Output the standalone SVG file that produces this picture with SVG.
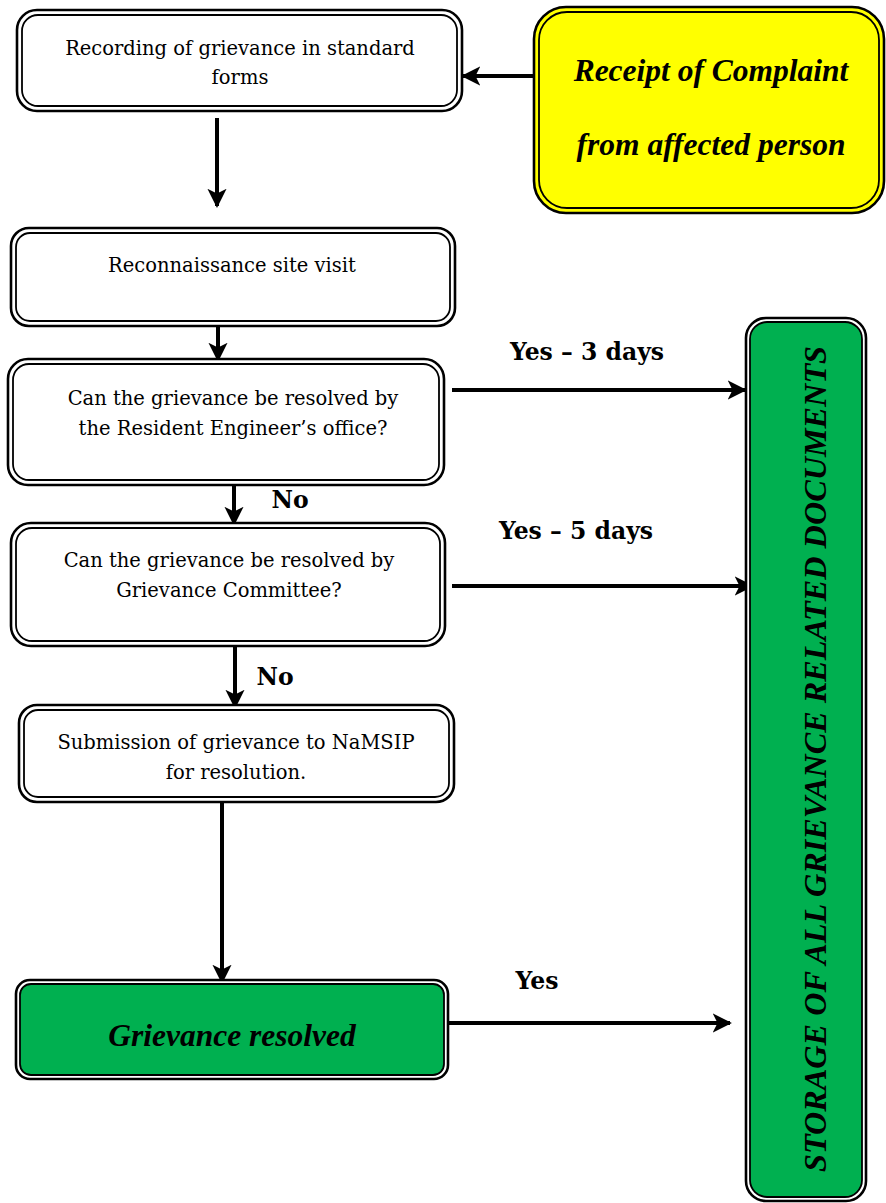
<svg xmlns="http://www.w3.org/2000/svg" width="886" height="1203" viewBox="0 0 886 1203">
<style>
.o{fill:#fff;stroke:#000;stroke-width:2.6}
.i{fill:none;stroke:#000;stroke-width:1.8}
.t{font-family:"DejaVu Serif","Liberation Serif",serif;font-size:19.5px;fill:#000;text-anchor:middle}
.bi{font-family:"Liberation Serif",serif;font-weight:bold;font-style:italic;fill:#000;text-anchor:middle}
.lb{font-family:"DejaVu Serif","Liberation Serif",serif;font-weight:bold;font-size:23.5px;fill:#000;text-anchor:middle}
.c{stroke:#000;stroke-width:4;fill:none}
</style>
<defs>
<marker id="ah" viewBox="0 0 10 10" refX="9" refY="5" markerWidth="4.8" markerHeight="4.8" orient="auto" markerUnits="strokeWidth">
<path d="M0,0 L10,5 L0,10 L2.5,5 Z" fill="#000"/>
</marker>
</defs>
<g id="connectors">
<line class="c" x1="533" y1="76" x2="463" y2="76" marker-end="url(#ah)"/>
<line class="c" x1="217" y1="118" x2="217" y2="206" marker-end="url(#ah)"/>
<line class="c" x1="218" y1="320" x2="218" y2="360" marker-end="url(#ah)"/>
<line class="c" x1="234" y1="470" x2="234" y2="524" marker-end="url(#ah)"/>
<line class="c" x1="235" y1="633" x2="235" y2="707" marker-end="url(#ah)"/>
<line class="c" x1="222" y1="802" x2="222" y2="982" marker-end="url(#ah)"/>
<line class="c" x1="452" y1="390" x2="745" y2="390" marker-end="url(#ah)"/>
<line class="c" x1="452" y1="586" x2="752" y2="586" marker-end="url(#ah)"/>
<line class="c" x1="448" y1="1023" x2="730" y2="1023" marker-end="url(#ah)"/>
<text class="lb" x="587" y="360">Yes – 3 days</text>
<text class="lb" x="576" y="539">Yes – 5 days</text>
<text class="lb" x="290" y="508">No</text>
<text class="lb" x="275" y="685">No</text>
<text class="lb" x="537" y="989">Yes</text>
</g>
<g id="n1">
<rect class="o" x="17" y="10" width="445" height="101" rx="20"/>
<rect class="i" x="22" y="15" width="435" height="91" rx="16"/>
<text class="t" x="240" y="55">Recording of grievance in standard</text>
<text class="t" x="240" y="84">forms</text>
</g>
<g id="n0">
<rect x="534" y="7" width="350" height="206" rx="32" fill="#ffff00" stroke="#000" stroke-width="2.6"/>
<rect class="i" x="539" y="12" width="340" height="196" rx="28"/>
<text class="bi" x="711" y="81" font-size="31.5">Receipt of Complaint</text>
<text class="bi" x="711" y="155" font-size="31.5">from affected person</text>
</g>
<g id="n2">
<rect class="o" x="11" y="228" width="444" height="98" rx="18"/>
<rect class="i" x="16" y="233" width="434" height="88" rx="14"/>
<text class="t" x="232" y="272">Reconnaissance site visit</text>
</g>
<g id="n3">
<rect class="o" x="8" y="359" width="436" height="126" rx="20"/>
<rect class="i" x="13" y="364" width="426" height="116" rx="16"/>
<text class="t" x="233" y="405">Can the grievance be resolved by</text>
<text class="t" x="233" y="435">the Resident Engineer’s office?</text>
</g>
<g id="n4">
<rect class="o" x="11" y="523" width="434" height="123" rx="20"/>
<rect class="i" x="16" y="528" width="424" height="113" rx="16"/>
<text class="t" x="229" y="567">Can the grievance be resolved by</text>
<text class="t" x="229" y="597">Grievance Committee?</text>
</g>
<g id="n5">
<rect class="o" x="19" y="705" width="435" height="97" rx="18"/>
<rect class="i" x="24" y="710" width="425" height="87" rx="14"/>
<text class="t" x="236" y="749">Submission of grievance to NaMSIP</text>
<text class="t" x="236" y="779">for resolution.</text>
</g>
<g id="n6">
<rect x="16" y="980" width="432" height="99" rx="14" fill="#fff" stroke="#000" stroke-width="2.6"/>
<rect x="20" y="984" width="424" height="91" rx="11" fill="#00b050" stroke="#000" stroke-width="1.8"/>
<text class="bi" x="232" y="1046" font-size="31.5">Grievance resolved</text>
</g>
<g id="n7">
<rect x="746" y="318" width="120" height="883" rx="20" fill="#fff" stroke="#000" stroke-width="2.6"/>
<rect x="750" y="322" width="112" height="875" rx="17" fill="#00b050" stroke="#000" stroke-width="1.8"/>
<text class="bi" transform="translate(826,759) rotate(-90)" font-size="32" textLength="826" lengthAdjust="spacingAndGlyphs">STORAGE OF ALL GRIEVANCE RELATED DOCUMENTS</text>
</g>
</svg>
